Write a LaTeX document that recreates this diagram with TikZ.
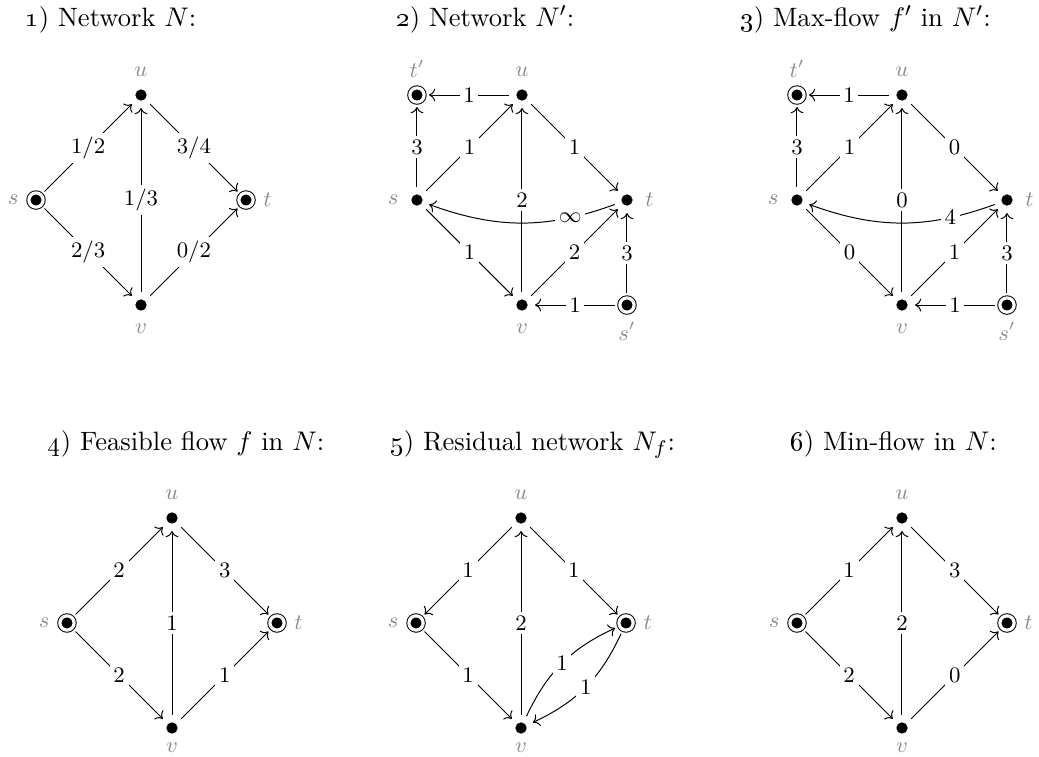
\documentclass[tikz,border=0pt]{standalone}
\usetikzlibrary{arrows.meta,positioning}

\tikzset{
  vtx/.style={circle, fill=black, inner sep=0pt, minimum size=4.6pt, outer sep=3pt},
  term/.style={circle, fill=black, draw, double=white, double distance=1.3pt, line width=0.4pt, inner sep=0pt, minimum size=5.8pt, outer sep=2pt},
  vname/.style={text=black!45, font=\small, inner sep=0.8pt, label distance=1.2pt},
  elabel/.style={fill=white, inner sep=1.5pt, font=\small},
  flow/.style={->, thin},
  title/.style={anchor=base west, inner sep=0pt, font=\fontsize{10.8}{13}\selectfont}
}

\begin{document}
\begin{tikzpicture}[x=1.5cm,y=1.5cm]
    \useasboundingbox (0,0) rectangle (9.895,-7.2);

    \node[title] (h1) at (0.238,-0.248) {\oldstylenums{1}) Network $N$:};
    \node[title] (h2) at (3.771,-0.248) {\oldstylenums{2}) Network $N'$:};
    \node[title] (h3) at (7.048,-0.248) {\oldstylenums{3}) Max-flow $f'$ in $N'$:};
    \node[title] (h4) at (0.448,-4.286) {\oldstylenums{4}) Feasible flow $f$ in $N$:};
    \node[title] (h5) at (3.714,-4.286) {\oldstylenums{5}) Residual network $N_f$:};
    \node[title] (h6) at (7.524,-4.286) {\oldstylenums{6}) Min-flow in $N$:};

    \begin{scope}[shift={(0.343,-1.905)}]
    \node[term, label={[vname]left:$s$}] (s1) at (0,0) {};
    \node[vtx, label={[vname]above:$u$}] (u1) at (1,1) {};
    \node[term, label={[vname]right:$t$}] (t1) at (2,0) {};
    \node[vtx, label={[vname]below:$v$}] (v1) at (1,-1) {};
    \draw[flow] (s1) -- node[elabel] {$1/2$} (u1);
    \draw[flow] (u1) -- node[elabel] {$3/4$} (t1);
    \draw[flow] (s1) -- node[elabel] {$2/3$} (v1);
    \draw[flow] (v1) -- node[elabel] {$0/2$} (t1);
    \draw[flow] (v1) -- node[elabel] {$1/3$} (u1);
    \end{scope}

    \begin{scope}[shift={(3.971,-1.905)}]
    \node[vtx, label={[vname]left:$s$}] (s2) at (0,0) {};
    \node[vtx, label={[vname]above:$u$}] (u2) at (1,1) {};
    \node[vtx, label={[vname]right:$t$}] (t2) at (2,0) {};
    \node[vtx, label={[vname]below:$v$}] (v2) at (1,-1) {};
    \node[term, label={[vname]above:$t'$}] (tp2) at (0,1) {};
    \node[term, label={[vname]below:$s'$}] (sp2) at (2,-1) {};
    \draw[flow] (u2) -- node[elabel] {$1$} (tp2);
    \draw[flow] (s2) -- node[elabel] {$3$} (tp2);
    \draw[flow] (s2) -- node[elabel] {$1$} (u2);
    \draw[flow] (u2) -- node[elabel] {$1$} (t2);
    \draw[flow] (v2) -- node[elabel] {$2$} (u2);
    \draw[flow] (s2) -- node[elabel] {$1$} (v2);
    \draw[flow] (v2) -- node[elabel] {$2$} (t2);
    \draw[flow] (sp2) -- node[elabel] {$3$} (t2);
    \draw[flow] (sp2) -- node[elabel] {$1$} (v2);
    \draw[flow] (t2) to[bend left=20] node[elabel, pos=0.23] {$\infty$} (s2);
    \end{scope}

    \begin{scope}[shift={(7.590,-1.905)}]
    \node[vtx, label={[vname]left:$s$}] (s3) at (0,0) {};
    \node[vtx, label={[vname]above:$u$}] (u3) at (1,1) {};
    \node[vtx, label={[vname]right:$t$}] (t3) at (2,0) {};
    \node[vtx, label={[vname]below:$v$}] (v3) at (1,-1) {};
    \node[term, label={[vname]above:$t'$}] (tp3) at (0,1) {};
    \node[term, label={[vname]below:$s'$}] (sp3) at (2,-1) {};
    \draw[flow] (u3) -- node[elabel] {$1$} (tp3);
    \draw[flow] (s3) -- node[elabel] {$3$} (tp3);
    \draw[flow] (s3) -- node[elabel] {$1$} (u3);
    \draw[flow] (u3) -- node[elabel] {$0$} (t3);
    \draw[flow] (v3) -- node[elabel] {$0$} (u3);
    \draw[flow] (s3) -- node[elabel] {$0$} (v3);
    \draw[flow] (v3) -- node[elabel] {$1$} (t3);
    \draw[flow] (sp3) -- node[elabel] {$3$} (t3);
    \draw[flow] (sp3) -- node[elabel] {$1$} (v3);
    \draw[flow] (t3) to[bend left=20] node[elabel, pos=0.23] {$4$} (s3);
    \end{scope}

    \begin{scope}[shift={(0.638,-5.933)}]
    \node[term, label={[vname]left:$s$}] (s4) at (0,0) {};
    \node[vtx, label={[vname]above:$u$}] (u4) at (1,1) {};
    \node[term, label={[vname]right:$t$}] (t4) at (2,0) {};
    \node[vtx, label={[vname, label distance=-0.2pt]below:$v$}] (v4) at (1,-1) {};
    \draw[flow] (s4) -- node[elabel] {$2$} (u4);
    \draw[flow] (u4) -- node[elabel] {$3$} (t4);
    \draw[flow] (s4) -- node[elabel] {$2$} (v4);
    \draw[flow] (v4) -- node[elabel] {$1$} (t4);
    \draw[flow] (v4) -- node[elabel] {$1$} (u4);
    \end{scope}

    \begin{scope}[shift={(3.962,-5.933)}]
    \node[term, label={[vname]left:$s$}] (s5) at (0,0) {};
    \node[vtx, label={[vname]above:$u$}] (u5) at (1,1) {};
    \node[term, label={[vname]right:$t$}] (t5) at (2,0) {};
    \node[vtx, label={[vname, label distance=-0.2pt]below:$v$}] (v5) at (1,-1) {};
    \draw[flow] (u5) -- node[elabel] {$1$} (s5);
    \draw[flow] (u5) -- node[elabel] {$1$} (t5);
    \draw[flow] (s5) -- node[elabel] {$1$} (v5);
    \draw[flow] (v5) -- node[elabel] {$2$} (u5);
    \draw[flow] (v5) to[bend left=20] node[elabel] {$1$} (t5);
    \draw[flow] (t5) to[bend left=20] node[elabel] {$1$} (v5);
    \end{scope}

    \begin{scope}[shift={(7.590,-5.933)}]
    \node[term, label={[vname]left:$s$}] (s6) at (0,0) {};
    \node[vtx, label={[vname]above:$u$}] (u6) at (1,1) {};
    \node[term, label={[vname]right:$t$}] (t6) at (2,0) {};
    \node[vtx, label={[vname, label distance=-0.2pt]below:$v$}] (v6) at (1,-1) {};
    \draw[flow] (s6) -- node[elabel] {$1$} (u6);
    \draw[flow] (u6) -- node[elabel] {$3$} (t6);
    \draw[flow] (s6) -- node[elabel] {$2$} (v6);
    \draw[flow] (v6) -- node[elabel] {$0$} (t6);
    \draw[flow] (v6) -- node[elabel] {$2$} (u6);
    \end{scope}
\end{tikzpicture}
\end{document}
